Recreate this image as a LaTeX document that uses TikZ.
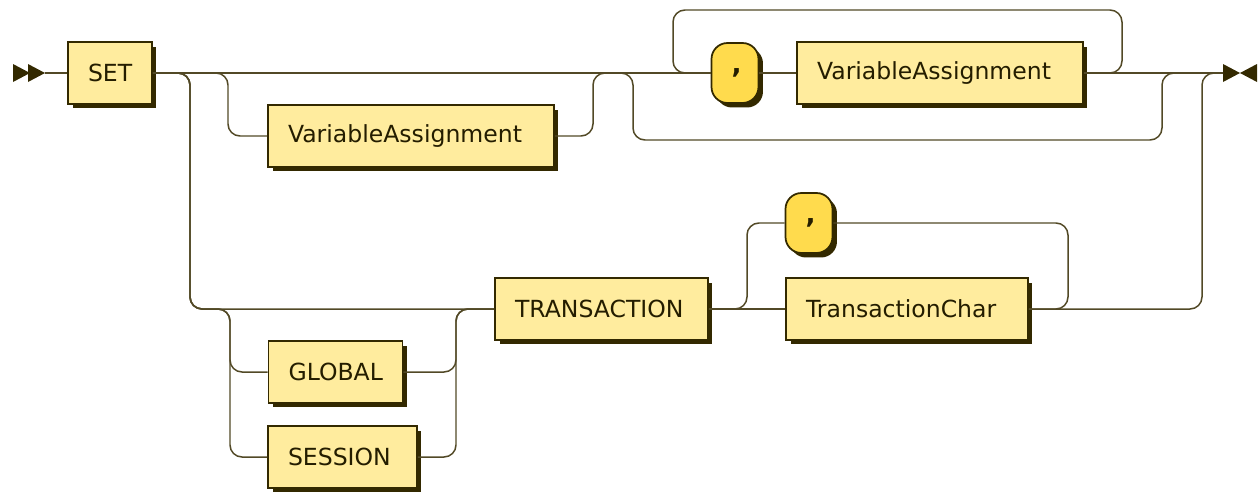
\documentclass[tikz,border=0pt]{standalone}
\usepackage{fontspec}
\setmainfont{DejaVu Sans}
\usepackage{xcolor}
\usepackage{tikz}
\usetikzlibrary{positioning,shadows}

\definecolor{ntfill}{HTML}{FFEC9E}
\definecolor{tfill}{HTML}{FFDB4D}
\definecolor{ink}{HTML}{332900}

\tikzset{
	rail/.style={draw=ink!85, line width=0.85pt, rounded corners=0.24cm},
	box/.style={draw=ink, fill=ntfill, line width=1pt, inner xsep=0.4cm, inner ysep=0pt,
		text width=#1, align=left, text=ink!70!black,
		minimum height=1.24cm, font=\fontsize{13.4}{16}\selectfont,
		drop shadow={shadow xshift=0.09cm, shadow yshift=-0.09cm, fill=ink, opacity=1}},
	tok/.style={box=0.14cm, fill=tfill, inner xsep=0.4cm, align=center, rounded corners=0.32cm,
		minimum height=1.2cm, font=\fontsize{15}{16}\bfseries}
}

\begin{document}
\begin{tikzpicture}[x=0.02cm, y=-0.02cm]
\useasboundingbox (0,0) rectangle (1259,494);

\coordinate(begin) at (45,73);
\coordinate(fin) at (1223,73);

\foreach \x in {13,28}
	\fill[ink] (\x,64) -- (\x+17,73) -- (\x,82) -- cycle;
\fill[ink] (1223,64) -- (1240,73) -- (1223,82) -- cycle;
\fill[ink] (1257,64) -- (1240,73) -- (1257,82) -- cycle;


\node[box=0.88cm](set) at (110,73) {SET};
\node[box=4.92cm](va1) at (411,136) {VariableAssignment};
\node[tok](c1) at (735,73) {\raisebox{-3pt}{,}};
\node[box=4.92cm](va2) at (940,73) {VariableAssignment};

\node[box=3.46cm](tr) at (601.5,309) {TRANSACTION};
\node[tok](c2) at (809,223) {\raisebox{-3pt}{,}};
\node[box=4.04cm](tc) at (907,309) {TransactionChar};
\node[box=1.88cm](gl) at (335.5,372) {GLOBAL};
\node[box=2.18cm](se) at (342.5,457) {SESSION};


\draw[rail] (begin) -- (set);
\draw[rail] (set) -- (c1);
\draw[rail] (c1) -- (va2);
\draw[rail] (va2) -- (fin);

\draw[rail] (set.east) -| (228,136) -- (va1);
\draw[rail] (va1) -| (593,73) -- (c1);
\draw[rail] (va2) -| (1122,10) -| (673,73) -- (c1);
\draw[rail] (set.east) -| (633,140) -| (1162,73) -- (fin);


\draw[rail] (set.east) -| (190,309) -- (tr);
\draw[rail] (set.east) -| (190,309) -| (230,372) -- (gl);
\draw[rail] (set.east) -| (190,309) -| (230,457) -- (se);
\draw[rail] (gl) -| (456,309) -- (tr);
\draw[rail] (se) -| (456,309) -- (tr);

\draw[rail] (tr) -- (tc);
\draw[rail] (tr) -| (747,223) -- (c2);
\draw[rail] (c2) -| (1068,309) -- (tc);
\draw[rail] (tc) -| (1202,73) -- (fin);

\end{tikzpicture}
\end{document}
